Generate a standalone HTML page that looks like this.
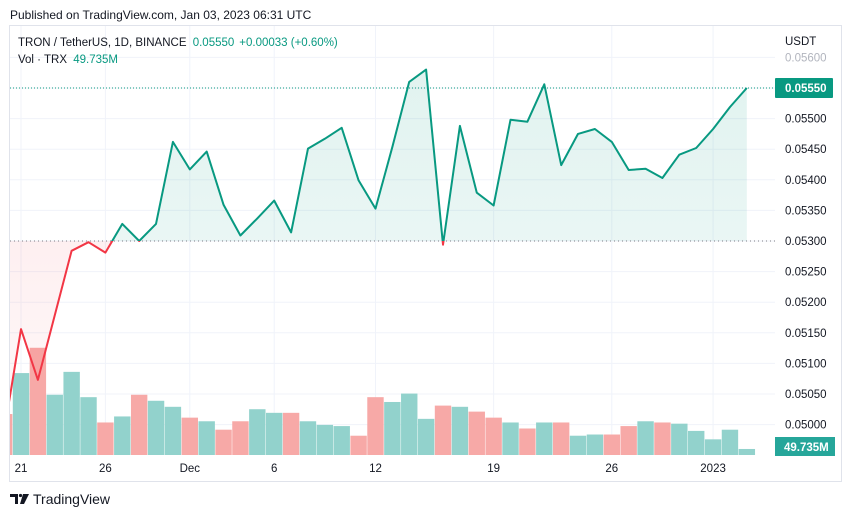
<!DOCTYPE html>
<html><head><meta charset="utf-8"><style>
body{margin:0;background:#fff;font-family:"Liberation Sans",sans-serif;}
svg text{font-family:"Liberation Sans",sans-serif;}
</style></head><body>
<svg id="c" width="851" height="518" viewBox="0 0 851 518">
<defs>
<clipPath id="pane"><rect x="10" y="26" width="765" height="429"/></clipPath>
<clipPath id="above"><rect x="10" y="26" width="765" height="0" id="aboveR"/></clipPath>
<clipPath id="below"><rect x="10" y="0" width="765" height="455" id="belowR"/></clipPath>
<linearGradient id="gg" x1="0" y1="0" x2="0" y2="1"><stop offset="0" stop-color="#089981" stop-opacity="0.12"/><stop offset="1" stop-color="#089981" stop-opacity="0.05"/></linearGradient>
<linearGradient id="rg" x1="0" y1="0" x2="0" y2="1"><stop offset="0" stop-color="#f23645" stop-opacity="0.12"/><stop offset="1" stop-color="#f23645" stop-opacity="0.03"/></linearGradient>
</defs>
<text x="10" y="19" font-size="12" fill="#131722">Published on TradingView.com, Jan 03, 2023 06:31 UTC</text>
<rect x="9.5" y="25.5" width="832" height="456" fill="none" stroke="#e0e3eb"/>
<g id="grid"></g>
<g id="vol" clip-path="url(#pane)"></g>
<g id="price" clip-path="url(#pane)"></g>
<g id="axis"></g>
<g id="taxis"></g>
<text x="18" y="46" font-size="11.5" fill="#131722">TRON / TetherUS, 1D, BINANCE <tspan fill="#089981" dx="3">0.05550</tspan><tspan fill="#089981" dx="5">+0.00033 (+0.60%)</tspan></text>
<text x="18" y="63" font-size="11.5" fill="#131722">Vol · TRX <tspan fill="#089981" dx="3">49.735M</tspan></text>
<text x="785" y="45" font-size="11.5" fill="#131722">USDT</text>
<g>
<path d="M10 494h8v10h-3v-7h-5z" fill="#131722"/>
<circle cx="20.5" cy="495.5" r="1.6" fill="#131722"/>
<path d="M23 494h6l-5 10h-4z" fill="#131722"/>
<text x="33" y="504" font-size="14" fill="#131722">TradingView</text>
</g>
</svg>
<script>
const dayOffsets=[-1,0,1,2,3,4,5,6,7,8,9,10,11,12,13,14,15,16,17,18,19,20,21,22,23,24,25,26,27,28,29,30,31,32,33,34,35,36,37,38,39,40,41,42,43];
const closes=[0.04988,0.05156,0.05073,0.05179,0.05284,0.05298,0.05281,0.05328,0.05300,0.05328,0.05462,0.05417,0.05446,0.05359,0.05309,0.05337,0.05366,0.05314,0.05451,0.05467,0.05485,0.05399,0.05353,0.05454,0.05560,0.05580,0.05294,0.05488,0.05379,0.05358,0.05498,0.05495,0.05556,0.05424,0.05475,0.05483,0.05462,0.05416,0.05418,0.05403,0.05441,0.05452,0.05483,0.05519,0.05550];
const volumes=[340,680,890,500,690,480,270,320,500,450,400,310,280,210,280,380,350,350,280,250,240,160,480,440,510,300,410,400,360,310,270,220,270,270,160,170,170,240,280,270,260,200,130,210,50];
const volUp=[0,1,0,1,1,1,0,1,0,1,1,0,1,0,0,1,1,0,1,1,1,0,0,1,1,1,0,1,0,0,1,0,1,0,1,1,0,0,1,0,1,1,1,1,1];
const priceTicks=[0.05600,0.05550,0.05500,0.05450,0.05400,0.05350,0.05300,0.05250,0.05200,0.05150,0.05100,0.05050,0.05000];
const timeLabels=["21","26","Dec","6","12","19","26","2023"];
const timeLabelDays=[0,5,10,15,21,28,35,41];
const baseline=0.05300, lastPrice=0.05550, lastVol="49.735M";
const NS="http://www.w3.org/2000/svg";
const X=d=>21+d*16.88;
const Y=p=>241-(p-0.053)*61200;
const VY=v=>455-v/8.3;
function mk(t,a,parent){const e=document.createElementNS(NS,t);for(const k in a)e.setAttribute(k,a[k]);parent.appendChild(e);return e;}
const grid=document.getElementById('grid'),vol=document.getElementById('vol'),price=document.getElementById('price'),axis=document.getElementById('axis'),taxis=document.getElementById('taxis');
priceTicks.forEach(p=>{const l=mk('line',{x1:10,x2:775,y1:Y(p),y2:Y(p),stroke:'#f0f3fa'},grid);


if(p===lastPrice)return;
const t=mk('text',{x:785,y:Y(p)+4,'font-size':11.5,fill:p===0.056?'#b2b5be':'#131722'},axis);t.textContent=p.toFixed(5);

});
timeLabelDays.forEach((d,i)=>{const l=mk('line',{x1:X(d),x2:X(d),y1:26,y2:455,stroke:'#f0f3fa'},grid);


const t=mk('text',{x:X(d),y:472,'font-size':11.5,fill:'#131722','text-anchor':'middle'},taxis);t.textContent=timeLabels[i];

});
dayOffsets.forEach((d,i)=>{const y=VY(volumes[i]);const r=mk('rect',{x:X(d)-8.2,y:y,width:16.4,height:455-y,fill:volUp[i]?'#92d2cc':'#f7a9a7'},vol);

});
const by=Y(baseline);
document.getElementById('aboveR').setAttribute('height',by-26);
document.getElementById('belowR').setAttribute('y',by);
document.getElementById('belowR').setAttribute('height',455-by);
const pts=dayOffsets.map((d,i)=>X(d).toFixed(1)+','+Y(closes[i]).toFixed(1)).join(' ');
const x0=X(dayOffsets[0]),x1=X(dayOffsets[dayOffsets.length-1]);
const area='M'+x0+','+by+' L'+pts.split(' ').join(' L')+' L'+x1+','+by+'Z';
const ga=mk('path',{d:area,fill:'url(#gg)','clip-path':'url(#above)'},price);


const ra=mk('path',{d:area,fill:'url(#rg)','clip-path':'url(#below)'},price);


const bl=mk('line',{x1:10,x2:775,y1:by,y2:by,stroke:'#787b86','stroke-dasharray':'1 3'},price);


const gl=mk('polyline',{points:pts,fill:'none',stroke:'#089981','stroke-width':2,'stroke-linejoin':'round','clip-path':'url(#above)'},price);


const rl=mk('polyline',{points:pts,fill:'none',stroke:'#f23645','stroke-width':2,'stroke-linejoin':'round','clip-path':'url(#below)'},price);


const ly=Y(lastPrice);
const ll=mk('line',{x1:10,x2:775,y1:ly,y2:ly,stroke:'#089981','stroke-dasharray':'1 2'},price);


const lb=mk('rect',{x:775,y:ly-10,width:58,height:20,fill:'#089981',rx:1},axis);


const lt=mk('text',{x:785,y:ly+4,'font-size':11.5,'font-weight':'bold',fill:'#fff'},axis);lt.textContent=lastPrice.toFixed(5);


const vb=mk('rect',{x:775,y:437,width:60,height:19,fill:'#26a69a'},axis);


const vt=mk('text',{x:784,y:451,'font-size':11.5,'font-weight':'bold',fill:'#fff'},axis);vt.textContent=lastVol;


</script>
</body></html>
